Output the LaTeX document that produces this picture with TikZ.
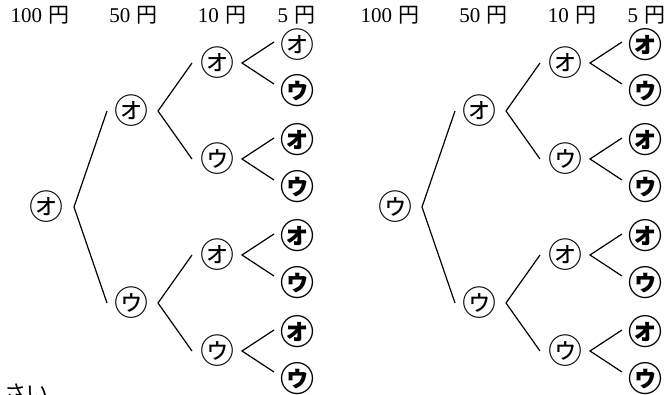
\documentclass[tikz,border=0pt]{standalone}
\usepackage{fontspec}
\setmainfont{Liberation Serif}
\newfontfamily\cjk{Noto Sans CJK JP}
\usetikzlibrary{calc}
\tikzset{
  thin mark/.style={font=\cjk\fontsize{17}{17}\selectfont, inner sep=0pt},
  bold mark/.style={font=\cjk\bfseries\fontsize{17}{17}\selectfont, inner sep=0pt},
  head/.style={font=\fontsize{10.5}{12}\selectfont, inner sep=0pt, anchor=base},
  branch/.style={line width=0.6pt},
}
\newcommand\yen{\hspace{0.3em}{\cjk 円}}
\begin{document}
\begin{tikzpicture}[x=0.5pt, y=-0.5pt]
\useasboundingbox (0,0) rectangle (671,395);
\clip (0,0) rectangle (671,395);

% column headings of both trees
\foreach \p/\dx in {L/0, R/350} {
  \node[head] (\p-h1) at (40+\dx,23)    {100\yen};
  \node[head] (\p-h2) at (133.5+\dx,23) {50\yen};
  \node[head] (\p-h3) at (222+\dx,23)   {10\yen};
  \node[head] (\p-h4) at (296.5+\dx,23) {5\yen};
}

% the two trees: root, 50-yen level, 10-yen level, 5-yen level
\foreach \p/\dx/\rt/\firstleaf in {L/0/㋔/thin mark, R/348/㋒/bold mark} {
  \node[thin mark] (\p-r)  at (47+\dx,207) {\rt};
  \node[thin mark] (\p-a1) at (131+\dx,111) {㋔};
  \node[thin mark] (\p-a2) at (131+\dx,303) {㋒};
  \foreach \i/\y/\g in {1/63/㋔, 2/159/㋒, 3/255/㋔, 4/351/㋒}
    \node[thin mark] (\p-b\i) at (217+\dx,\y) {\g};

  \node[\firstleaf] (\p-c1) at ($(\p-b1)+(80,-18)$) {㋔};
  \node[bold mark]  (\p-c2) at ($(\p-b1)+(80,28)$)  {㋒};
  \foreach \i/\j/\k in {2/3/4, 3/5/6, 4/7/8} {
    \node[bold mark] (\p-c\j) at ($(\p-b\i)+(80,-19)$) {㋔};
    \node[bold mark] (\p-c\k) at ($(\p-b\i)+(80,28)$)  {㋒};
  }

  % branches from the root
  \coordinate (\p-rv) at ($(\p-r)+(27,0)$);
  \coordinate (\p-ru) at ($(\p-a1)+(-24,0)$);
  \coordinate (\p-rd) at ($(\p-a2)+(-24,0)$);
  \draw[branch] (\p-ru) -- (\p-rv) -- (\p-rd);

  % branches from the 50-yen level
  \foreach \i/\j/\k in {1/1/2, 2/3/4} {
    \coordinate (\p-av\i) at ($(\p-a\i)+(27,0)$);
    \coordinate (\p-au\i) at ($(\p-b\j)+(-25,0)$);
    \coordinate (\p-ad\i) at ($(\p-b\k)+(-25,0)$);
    \draw[branch] (\p-au\i) -- (\p-av\i) -- (\p-ad\i);
  }

  % branches from the 10-yen level
  \foreach \i in {1,2,3,4} {
    \coordinate (\p-bv\i) at ($(\p-b\i)+(25,0)$);
    \coordinate (\p-bu\i) at ($(\p-bv\i)+(32,-21)$);
    \coordinate (\p-bd\i) at ($(\p-bv\i)+(32,21)$);
    \draw[branch] (\p-bu\i) -- (\p-bv\i) -- (\p-bd\i);
  }
}

% line of text running off the lower edge
\node[font=\cjk\fontsize{11}{11}\selectfont, anchor=west, inner sep=0pt] (tail) at (4,393) {さい};
\end{tikzpicture}
\end{document}
